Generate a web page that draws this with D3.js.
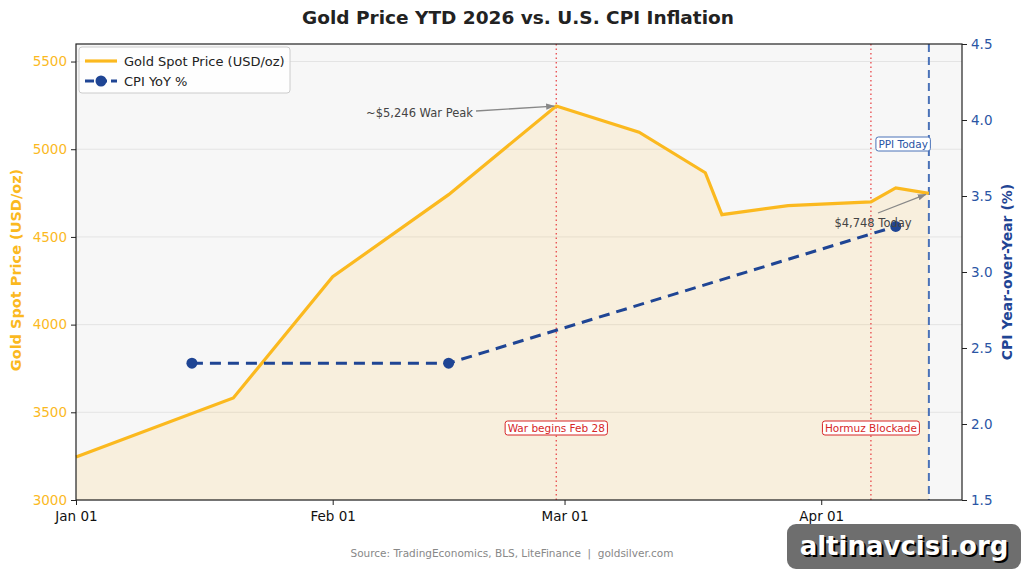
<!DOCTYPE html>
<html lang="en">
<head>
<meta charset="UTF-8">
<title>Gold vs CPI</title>
<script src="https://cdn.jsdelivr.net/npm/d3@7/dist/d3.min.js"></script>
<style>
    body { margin: 0; background: #fff; }
    svg { font-family: "DejaVu Sans", sans-serif; }
</style>
</head>
<body>
<div id="chart"></div>
<script>
    // data
    const goldDates = ["2026-01-01", "2026-01-20", "2026-02-01", "2026-02-15", "2026-02-28", "2026-03-10",
        "2026-03-18", "2026-03-20", "2026-03-28", "2026-04-07", "2026-04-10", "2026-04-14"];
    const goldPrices = [3245, 3582, 4273, 4741, 5246, 5097, 4866, 4627, 4678, 4700, 4780, 4748];
    const cpiDates = ["2026-01-15", "2026-02-15", "2026-04-10"];
    const cpiValues = [2.4, 2.4, 3.3];
    const events = [
        { date: "2026-02-28", label: "War begins Feb 28" },
        { date: "2026-04-07", label: "Hormuz Blockade" }
    ];
    const todayDate = "2026-04-14";
    const goldTicks = [3000, 3500, 4000, 4500, 5000, 5500];
    const cpiTicks = [1.5, 2.0, 2.5, 3.0, 3.5, 4.0, 4.5];
    const monthTicks = ["2026-01-01", "2026-02-01", "2026-03-01", "2026-04-01"];

    const W = 1024, H = 571;
    const margin = { top: 44, right: 62, bottom: 71, left: 76 };
    const width = W - margin.left - margin.right;
    const height = H - margin.top - margin.bottom;

    const GOLD = "#fbb91f";
    const BLUE = "#1f4594";
    const BLUE_TXT = "#2a55a4";

    const parse = d3.utcParse("%Y-%m-%d");
    const gold = goldDates.map((d, i) => ({ date: parse(d), v: goldPrices[i] }));
    const cpi = cpiDates.map((d, i) => ({ date: parse(d), v: cpiValues[i] }));

    const x = d3.scaleUtc().domain([parse("2026-01-01"), parse("2026-04-18")]).range([0, width]);
    const y = d3.scaleLinear().domain([3000, 5600]).range([height, 0]);
    const y2 = d3.scaleLinear().domain([1.5, 4.5]).range([height, 0]);

    const svg = d3.select("#chart").append("svg")
        .attr("width", W).attr("height", H);

    const defs = svg.append("defs");
    defs.append("marker").attr("id", "arr")
        .attr("viewBox", "0 0 10 10").attr("refX", 9).attr("refY", 5)
        .attr("markerWidth", 9).attr("markerHeight", 9).attr("orient", "auto")
        .attr("markerUnits", "userSpaceOnUse")
        .append("path").attr("d", "M0,1.5 L10,5 L0,8.5 Z").attr("fill", "#888");

    svg.append("text").attr("x", W / 2 + 6).attr("y", 24)
        .attr("text-anchor", "middle").attr("font-size", 18.5).attr("font-weight", "bold")
        .attr("fill", "#222").text("Gold Price YTD 2026 vs. U.S. CPI Inflation");

    const g = svg.append("g").attr("transform", "translate(" + margin.left + "," + margin.top + ")");

    g.append("rect").attr("width", width).attr("height", height).attr("fill", "#f7f7f7");

    // gridlines
    g.selectAll(".grid").data(goldTicks).enter().append("line")
        .attr("x1", 0).attr("x2", width)
        .attr("y1", d => y(d)).attr("y2", d => y(d))
        .attr("stroke", "#e4e4e4").attr("stroke-width", 1);

    // area under gold
    const area = d3.area().x(d => x(d.date)).y0(height).y1(d => y(d.v));
    g.append("path").datum(gold).attr("d", area).attr("fill", GOLD).attr("fill-opacity", 0.12);

    // event lines
    events.forEach(e => {
        const ex = x(parse(e.date));
        g.append("line").attr("x1", ex).attr("x2", ex).attr("y1", 0).attr("y2", height)
            .attr("stroke", "#e8474a").attr("stroke-width", 1.3).attr("stroke-dasharray", "1.5,3");
    });

    // today line
    const tx = x(parse(todayDate));
    g.append("line").attr("x1", tx).attr("x2", tx).attr("y1", 0).attr("y2", height)
        .attr("stroke", "#4a72b8").attr("stroke-width", 2).attr("stroke-dasharray", "8,5");

    // gold line
    const line = d3.line().x(d => x(d.date)).y(d => y(d.v));
    g.append("path").datum(gold).attr("d", line)
        .attr("fill", "none").attr("stroke", GOLD).attr("stroke-width", 3.2)
        .attr("stroke-linejoin", "miter");

    // cpi line
    const line2 = d3.line().x(d => x(d.date)).y(d => y2(d.v));
    g.append("path").datum(cpi).attr("d", line2)
        .attr("fill", "none").attr("stroke", BLUE).attr("stroke-width", 3)
        .attr("stroke-dasharray", "11,7");
    g.selectAll(".cpiDot").data(cpi).enter().append("circle")
        .attr("cx", d => x(d.date)).attr("cy", d => y2(d.v)).attr("r", 5.5).attr("fill", BLUE);

    // event labels
    events.forEach(e => {
        const ex = x(parse(e.date));
        const t = g.append("text").attr("x", ex).attr("y", 388)
            .attr("text-anchor", "middle").attr("font-size", 10.5).attr("fill", "#d62728").text(e.label);
        const bb = t.node().getBBox();
        g.insert("rect", "text:last-of-type")
            .attr("x", bb.x - 2.5).attr("y", bb.y - 1).attr("width", bb.width + 5).attr("height", bb.height + 2)
            .attr("rx", 2.5).attr("fill", "#fff").attr("stroke", "#d62728").attr("stroke-width", 1);
        t.raise();
    });

    // peak annotation
    const peak = gold[goldPrices.indexOf(d3.max(goldPrices))];
    g.append("line").attr("x1", 400).attr("y1", 67)
        .attr("x2", x(peak.date) - 2).attr("y2", y(peak.v))
        .attr("stroke", "#888").attr("stroke-width", 1.3).attr("marker-end", "url(#arr)");
    g.append("text").attr("x", 397).attr("y", 73).attr("text-anchor", "end")
        .attr("font-size", 11.5).attr("fill", "#444").text("~$5,246 War Peak");

    // today annotation
    const last = gold[gold.length - 1];
    g.append("line").attr("x1", 802).attr("y1", 169)
        .attr("x2", x(last.date) - 3).attr("y2", y(last.v) + 1)
        .attr("stroke", "#888").attr("stroke-width", 1.3).attr("marker-end", "url(#arr)");
    g.append("text").attr("x", 797).attr("y", 183).attr("text-anchor", "middle")
        .attr("font-size", 11.5).attr("fill", "#444").text("$4,748 Today");

    // PPI label
    const ppi = g.append("text").attr("x", tx - 1).attr("y", 104).attr("text-anchor", "end")
        .attr("font-size", 10.5).attr("fill", BLUE_TXT).text("PPI Today");
    const pb = ppi.node().getBBox();
    g.insert("rect", "text:last-of-type")
        .attr("x", pb.x - 2.5).attr("y", pb.y - 1).attr("width", pb.width + 5).attr("height", pb.height + 2)
        .attr("rx", 2.5).attr("fill", "#fff").attr("stroke", "#4a72b8").attr("stroke-width", 1);
    ppi.raise();

    // frame
    g.append("rect").attr("width", width).attr("height", height)
        .attr("fill", "none").attr("stroke", "#222").attr("stroke-width", 1.2);

    // axes
    const xAxis = g.append("g").attr("transform", "translate(0," + height + ")")
        .call(d3.axisBottom(x).tickValues(monthTicks.map(parse)).tickFormat(d3.utcFormat("%b %d")).tickSize(5).tickPadding(6));
    xAxis.select(".domain").remove();
    xAxis.selectAll("text").attr("font-size", 13.5).attr("fill", "#111").attr("font-family", "DejaVu Sans");
    xAxis.selectAll("line").attr("stroke", "#222");

    const yAxis = g.append("g")
        .call(d3.axisLeft(y).tickValues(goldTicks).tickFormat(d3.format("d")).tickSize(5).tickPadding(4));
    yAxis.select(".domain").remove();
    yAxis.selectAll("text").attr("font-size", 13.5).attr("fill", GOLD).attr("font-family", "DejaVu Sans");
    yAxis.selectAll("line").attr("stroke", "#222");

    const yAxis2 = g.append("g").attr("transform", "translate(" + width + ",0)")
        .call(d3.axisRight(y2).tickValues(cpiTicks).tickFormat(d3.format(".1f")).tickSize(5).tickPadding(4));
    yAxis2.select(".domain").remove();
    yAxis2.selectAll("text").attr("font-size", 13.5).attr("fill", BLUE_TXT).attr("font-family", "DejaVu Sans");
    yAxis2.selectAll("line").attr("stroke", "#222");

    // axis titles
    svg.append("text").attr("transform", "translate(21," + (margin.top + height / 2 - 2) + ") rotate(-90)")
        .attr("text-anchor", "middle").attr("font-size", 14.5).attr("font-weight", "bold")
        .attr("fill", GOLD).text("Gold Spot Price (USD/oz)");
    svg.append("text").attr("transform", "translate(1012," + (margin.top + height / 2) + ") rotate(-90)")
        .attr("text-anchor", "middle").attr("font-size", 14).attr("font-weight", "bold")
        .attr("fill", BLUE).text("CPI Year-over-Year (%)");

    // legend
    const lg = g.append("g").attr("transform", "translate(3,3)");
    lg.append("rect").attr("width", 211).attr("height", 46).attr("rx", 3)
        .attr("fill", "#fff").attr("fill-opacity", 0.85).attr("stroke", "#ccc");
    lg.append("line").attr("x1", 6).attr("x2", 38).attr("y1", 14).attr("y2", 14)
        .attr("stroke", GOLD).attr("stroke-width", 3.2);
    lg.append("text").attr("x", 45).attr("y", 18.5).attr("font-size", 13).attr("fill", "#222")
        .text("Gold Spot Price (USD/oz)");
    lg.append("line").attr("x1", 6).attr("x2", 38).attr("y1", 34).attr("y2", 34)
        .attr("stroke", BLUE).attr("stroke-width", 3).attr("stroke-dasharray", "9,4");
    lg.append("circle").attr("cx", 22).attr("cy", 34).attr("r", 5.5).attr("fill", BLUE);
    lg.append("text").attr("x", 45).attr("y", 38.5).attr("font-size", 13).attr("fill", "#222")
        .text("CPI YoY %");

    // source
    svg.append("text").attr("x", 512).attr("y", 557).attr("text-anchor", "middle")
        .attr("font-size", 10.5).attr("fill", "#888").style("white-space", "pre")
        .text("Source: TradingEconomics, BLS, LiteFinance  |  goldsilver.com");

    // watermark
    svg.append("rect").attr("x", 787).attr("y", 524).attr("width", 234).attr("height", 45).attr("rx", 9)
        .attr("fill", "#555").attr("fill-opacity", 0.85);
    svg.append("text").attr("x", 906).attr("y", 557).attr("text-anchor", "middle")
        .attr("font-size", 26).attr("font-weight", "bold").attr("fill", "#000").text("altinavcisi.org");
    svg.append("text").attr("x", 904).attr("y", 555).attr("text-anchor", "middle")
        .attr("font-size", 26).attr("font-weight", "bold").attr("fill", "#fff").text("altinavcisi.org");
</script>
</body>
</html>
